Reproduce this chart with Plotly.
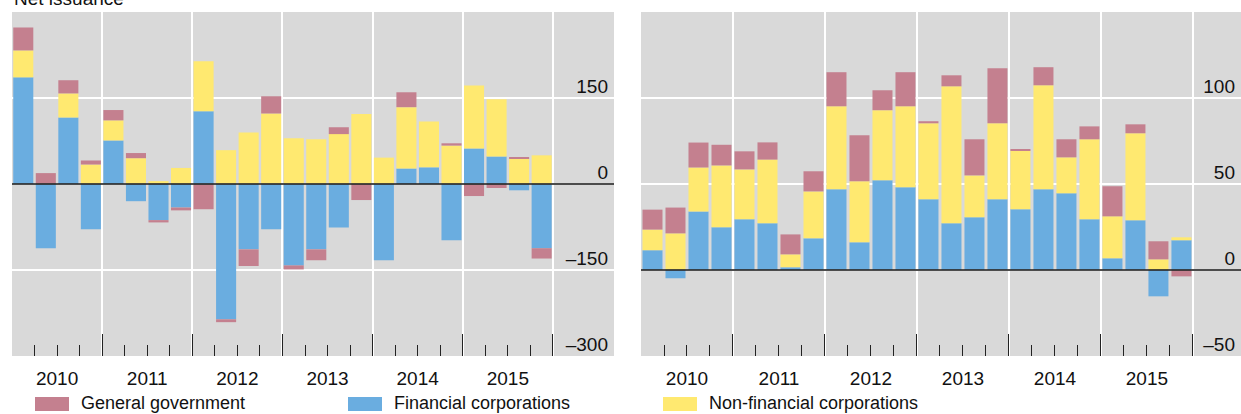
import plotly.graph_objects as go

# Quarterly periods 2010Q1 .. 2015Q4
years = ["2010", "2011", "2012", "2013", "2014", "2015"]
quarters = [f"{y}Q{q}" for y in years for q in range(1, 5)]

# Left panel: net issuance (EUR bn)
left_fin = [186, -112, 116, -79, 76, -30, -63, -41, 127, -236, -114, -79,
            -142, -114, -76, 0, -133, 27, 29, -98, 62, 48, -11, -112]
left_nonfin = [47, 0, 42, 34, 35, 45, 5, 28, 87, 59, 90, 123,
               80, 78, 87, 122, 46, 107, 80, 67, 110, 100, 45, 50]
left_gov = [40, 19, 23, 7, 18, 9, -4, -5, -44, -5, -29, 30,
            -7, -19, 12, -28, 0, 26, 0, 4, -21, -7, 2, -18]

# Right panel
right_fin = [11.5, -4.8, 34, 24.8, 29.5, 27.2, 1.6, 18.4, 46.9, 16.1, 52.2, 48.1,
             41.1, 27.2, 30.6, 41.1, 35.3, 46.9, 44.6, 29.5, 6.8, 28.9, -15.3, 17.3]
right_nonfin = [12, 21.3, 25.6, 36, 29, 37, 7.5, 27.3, 48.3, 35.5, 40.7, 47.1,
                44.2, 79.6, 24.4, 44.2, 34.3, 60.5, 20.9, 46.5, 24.4, 50.6, 6.2, 1.7]
right_gov = [11.6, 15, 14.5, 12, 10.5, 10, 11.6, 11.7, 19.8, 26.7, 11.6, 19.8,
             1.2, 6.4, 21, 32, 0.6, 10.5, 10.5, 7.5, 17.5, 5.2, 10.5, -3.7]

left_ticks = [-300, -150, 0, 150]
left_ticktext = ["\u2013300", "\u2013150", "0", "150"]
right_ticks = [-50, 0, 50, 100]
right_ticktext = ["\u201350", "0", "50", "100"]

series_names = ["General government", "Financial corporations", "Non-financial corporations"]
GOV, FIN, NONFIN = "#C4808F", "#6AADE0", "#FFE970"
BG = "#D9D9D9"
FONT = "Arial, Liberation Sans, sans-serif"

xpos = list(range(len(quarters)))
year_bounds = [i - 0.5 for i in range(0, len(quarters) + 1, 4)]
quarter_bounds = [i - 0.5 for i in range(len(quarters)) if i % 4 != 0]
year_centers = [i + 1.5 for i in range(0, len(quarters), 4)]

fig = go.Figure()

for xa, ya, fin, nonfin, gov, w in [
    ("x", "y", left_fin, left_nonfin, left_gov, 0.89),
    ("x2", "y2", right_fin, right_nonfin, right_gov, 0.87),
]:
    fig.add_trace(go.Bar(x=xpos, y=fin, marker_color=FIN, width=w, xaxis=xa, yaxis=ya,
                         name=series_names[1], showlegend=False, marker_line_width=0))
    fig.add_trace(go.Bar(x=xpos, y=nonfin, marker_color=NONFIN, width=w, xaxis=xa, yaxis=ya,
                         name=series_names[2], showlegend=False, marker_line_width=0))
    fig.add_trace(go.Bar(x=xpos, y=gov, marker_color=GOV, width=w, xaxis=xa, yaxis=ya,
                         name=series_names[0], showlegend=False, marker_line_width=0))

# empty traces so the year-label axes get drawn
for xa, ya in [("x3", "y"), ("x4", "y2")]:
    fig.add_trace(go.Scatter(x=[], y=[], xaxis=xa, yaxis=ya, showlegend=False, hoverinfo="skip"))

W, H = 1241, 414
ML, MR, MT, MB = 0, 0, 12, 58
left_dom = [12 / W, 614 / W]
right_dom = [641 / W, 1.0]

xbase = dict(
    tickmode="array", tickvals=year_bounds, showticklabels=False,
    ticks="inside", ticklen=22, tickwidth=1, tickcolor="#222",
    showgrid=True, gridcolor="white", gridwidth=1.5, zeroline=False,
    minor=dict(tickvals=quarter_bounds, ticks="inside", ticklen=11,
               tickwidth=1, tickcolor="#222", showgrid=False),
    showline=False,
)
xlab = dict(
    tickmode="array", tickvals=year_centers, ticktext=years, ticks="",
    showgrid=False, zeroline=False, showline=False,
    tickfont=dict(size=19, color="#111", family=FONT), ticklabelstandoff=9,
)
ybase = dict(
    side="right", ticklabelposition="inside", ticks="", ticklabelshift=-12,
    ticklabelstandoff=3, ticklabeloverflow="allow",
    showgrid=True, gridcolor="white", gridwidth=1.5, zeroline=False,
    tickfont=dict(size=19, color="#111", family=FONT),
)

fig.update_layout(
    width=W, height=H,
    margin=dict(l=ML, r=MR, t=MT, b=MB, autoexpand=False),
    paper_bgcolor="white", plot_bgcolor=BG,
    barmode="relative",
    font=dict(family=FONT, size=18, color="#111"),
    showlegend=False,
    xaxis=dict(domain=left_dom, anchor="y", range=[-0.5, 26.21], **xbase),
    xaxis2=dict(domain=right_dom, anchor="y2", range=[-0.5, 25.59], **xbase),
    xaxis3=dict(domain=left_dom, anchor="y", overlaying="x", range=[-0.5, 26.21], **xlab),
    xaxis4=dict(domain=right_dom, anchor="y2", overlaying="x2", range=[-0.5, 25.59], **xlab),
    yaxis=dict(anchor="x", range=[-300, 300], tickvals=left_ticks, ticktext=left_ticktext, **ybase),
    yaxis2=dict(anchor="x2", range=[-50, 150], tickvals=right_ticks, ticktext=right_ticktext, **ybase),
)

# zero lines drawn above the bars
for xr, yr in [("x domain", "y"), ("x2 domain", "y2")]:
    fig.add_shape(type="line", xref=xr, yref=yr, x0=0, x1=1, y0=0, y1=0,
                  line=dict(color="rgba(45,45,45,0.85)", width=2), layer="above")

# panel title (partly cut at the top in the original)
fig.add_annotation(text="Net issuance", xref="paper", yref="paper", x=12 / W, y=1.003,
                   xanchor="left", yanchor="bottom", showarrow=False,
                   font=dict(size=19, family=FONT, color="#111"))

# manual legend with wide swatches
ph = H - MT - MB
def py(p):
    return (H - MB - p) / ph

legend_items = [(series_names[0], GOV, 35), (series_names[1], FIN, 348), (series_names[2], NONFIN, 663)]
for name, col, x0 in legend_items:
    fig.add_shape(type="rect", xref="paper", yref="paper",
                  x0=x0 / W, x1=(x0 + 34) / W, y0=py(411), y1=py(397),
                  fillcolor=col, line_width=0)
    fig.add_annotation(text=name, xref="paper", yref="paper", x=(x0 + 44) / W, y=py(403),
                       xanchor="left", yanchor="middle", showarrow=False,
                       font=dict(size=18, family=FONT, color="#111"))

fig.write_html("out.html", config={"displayModeBar": False},
               post_script="document.body.style.margin='0';")
